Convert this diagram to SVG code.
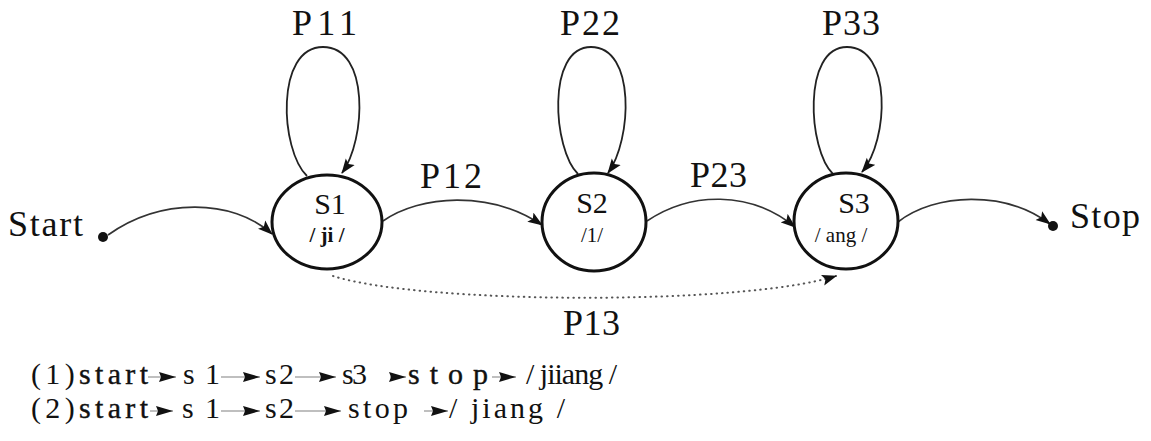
<svg xmlns="http://www.w3.org/2000/svg" width="1151" height="441" viewBox="0 0 1151 441">
  <defs>
    <marker id="arrow" markerUnits="userSpaceOnUse" markerWidth="16" markerHeight="12" viewBox="0 0 16 12" refX="14" refY="6" orient="auto">
      <path d="M0,0.5 L15,6 L0,11.5 L3,6 Z" fill="#111"/>
    </marker>
    <marker id="tip" markerUnits="userSpaceOnUse" markerWidth="18" markerHeight="12" viewBox="0 0 18 12" refX="17" refY="6" orient="auto">
      <path d="M0,1 L17,6 L0,11 L2,6 Z" fill="#111"/>
    </marker>
    <style>
      .state { fill: #fff; stroke: #111; stroke-width: 3; }
      .edge { fill: none; stroke: #333; stroke-width: 1.6; marker-end: url(#arrow); }
      .loop { fill: none; stroke: #222; stroke-width: 1.8; marker-end: url(#arrow); }
      .dotted { fill: none; stroke: #555; stroke-width: 2; stroke-dasharray: 0.5 5; stroke-linecap: round; marker-end: url(#arrow); }
      .lbl { font-family: "Liberation Serif", "Times New Roman", serif; fill: #111; }
      .big { font-size: 36px; }
      .name { font-size: 30px; text-anchor: middle; }
      .phon { font-size: 21px; text-anchor: middle; }
      .seq { font-size: 30px; }
      .em { stroke: #111; stroke-width: 0.4; }
      .step { stroke: #aaa; stroke-width: 1.5; marker-end: url(#tip); }
    </style>
  </defs>

  <!-- transitions -->
  <g id="connectors">
    <path class="edge" d="M 108 235 C 160 198, 232 198, 272 234"/>
    <path class="edge" d="M 383 221 C 420 195, 490 190, 542 225"/>
    <path class="edge" d="M 647 221 C 690 192, 750 190, 795 227"/>
    <path class="edge" d="M 898 222 C 935 193, 1005 190, 1050 224"/>
    <path class="dotted" d="M 333 276 C 420 304, 740 306, 836 276"/>
    <path class="loop" d="M 307 176 C 280 150, 275 47, 323 47 C 370 47, 366 140, 342 173"/>
    <path class="loop" d="M 578 174 C 553 150, 546 47, 591 47 C 636 47, 632 140, 608 173"/>
    <path class="loop" d="M 833 174 C 808 150, 802 47, 847 47 C 892 47, 889 140, 862 172"/>
  </g>

  <!-- start and stop points -->
  <g id="start">
    <circle cx="103" cy="237" r="5" fill="#111"/>
    <text class="lbl big" x="8" y="236" textLength="75" lengthAdjust="spacing">Start</text>
  </g>
  <g id="stop">
    <circle cx="1053" cy="226" r="5" fill="#111"/>
    <text class="lbl big" x="1070" y="228" textLength="70" lengthAdjust="spacing">Stop</text>
  </g>

  <!-- states -->
  <g id="s1">
    <ellipse class="state" cx="327" cy="222" rx="55" ry="47"/>
    <text class="lbl name" x="330" y="214">S1</text>
    <text class="lbl phon" x="327" y="242" font-weight="bold">/ ji /</text>
  </g>
  <g id="s2">
    <ellipse class="state" cx="594" cy="222" rx="52" ry="49"/>
    <text class="lbl name" x="592" y="213">S2</text>
    <text class="lbl phon" x="592" y="242">/1/</text>
  </g>
  <g id="s3">
    <ellipse class="state" cx="846" cy="221" rx="52" ry="48"/>
    <text class="lbl name" x="854" y="213">S3</text>
    <text class="lbl phon" x="841" y="242">/ ang /</text>
  </g>

  <!-- transition probabilities -->
  <g id="labels">
    <text class="lbl big" x="292" y="35" textLength="65" lengthAdjust="spacing">P11</text>
    <text class="lbl big" x="560" y="35" textLength="60" lengthAdjust="spacing">P22</text>
    <text class="lbl big" x="822" y="35" textLength="58" lengthAdjust="spacing">P33</text>
    <text class="lbl big" x="420" y="188" textLength="62" lengthAdjust="spacing">P12</text>
    <text class="lbl big" x="690" y="187" textLength="57" lengthAdjust="spacing">P23</text>
    <text class="lbl big" x="563" y="335" textLength="57" lengthAdjust="spacing">P13</text>
  </g>

  <!-- decoding paths -->
  <g id="path1">
    <text class="lbl seq" x="31" y="384" textLength="117" lengthAdjust="spacing">(1)<tspan class="em">start</tspan></text>
    <line class="step" x1="148" y1="377" x2="176" y2="377"/>
    <text class="lbl seq" x="183" y="384" textLength="37" lengthAdjust="spacing">s1</text>
    <line class="step" x1="221" y1="377" x2="260" y2="377"/>
    <text class="lbl seq" x="265" y="384" textLength="29" lengthAdjust="spacing">s2</text>
    <line class="step" x1="295" y1="377" x2="336" y2="377"/>
    <text class="lbl seq" x="342" y="384" textLength="25" lengthAdjust="spacing">s3</text>
    <line class="step" x1="390" y1="377" x2="406" y2="377" stroke="none"/>
    <text class="lbl seq em" x="408" y="384" font-size="34" textLength="80" lengthAdjust="spacing">stop</text>
    <line class="step" x1="492" y1="377" x2="516" y2="377"/>
    <text class="lbl seq" x="526" y="384" textLength="91" lengthAdjust="spacing">/ jiiang /</text>
  </g>
  <g id="path2">
    <text class="lbl seq" x="31" y="418" textLength="117" lengthAdjust="spacing">(2)<tspan class="em">start</tspan></text>
    <line class="step" x1="150" y1="411" x2="173" y2="411"/>
    <text class="lbl seq" x="182" y="418" textLength="38" lengthAdjust="spacing">s1</text>
    <line class="step" x1="221" y1="411" x2="260" y2="411"/>
    <text class="lbl seq" x="265" y="418" textLength="29" lengthAdjust="spacing">s2</text>
    <line class="step" x1="295" y1="411" x2="341" y2="411"/>
    <text class="lbl seq" x="348" y="418" textLength="60" lengthAdjust="spacing">stop</text>
    <line class="step" x1="424" y1="411" x2="448" y2="411" stroke="none"/>
    <text class="lbl seq" x="449" y="418" textLength="116" lengthAdjust="spacing">/ jiang /</text>
  </g>
</svg>
